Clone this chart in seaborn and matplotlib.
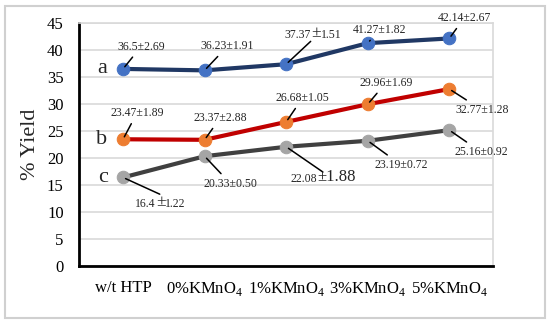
import pandas as pd
import matplotlib.pyplot as plt
import seaborn as sns
from matplotlib.patches import Rectangle

# values
categories = ["w/t HTP", "0%KMnO$_\\mathregular{4}$", "1%KMnO$_\\mathregular{4}$",
              "3%KMnO$_\\mathregular{4}$", "5%KMnO$_\\mathregular{4}$"]
yield_a = [36.5, 36.23, 37.37, 41.27, 42.14]
yield_b = [23.47, 23.37, 26.68, 29.96, 32.77]
yield_c = [16.4, 20.33, 22.08, 23.19, 25.16]
mean_a = ["36.5", "36.23", "37.37", "41.27", "42.14"]
mean_b = ["23.47", "23.37", "26.68", "29.96", "32.77"]
mean_c = ["16.4", "20.33", "22.08", "23.19", "25.16"]
sd_a = ["2.69", "1.91", "1.51", "1.82", "2.67"]
sd_b = ["1.89", "2.88", "1.05", "1.69", "1.28"]
sd_c = ["1.22", "0.50", "1.88", "0.72", "0.92"]

sns.set_style("white")
plt.rcParams['font.family'] = ['Liberation Serif', 'DejaVu Serif']
plt.rcParams['mathtext.fontset'] = 'custom'
plt.rcParams['mathtext.rm'] = 'Liberation Serif'

df = pd.DataFrame({
    "x": list(range(5)) * 3,
    "y": yield_a + yield_b + yield_c,
    "series": ["a"] * 5 + ["b"] * 5 + ["c"] * 5,
})

styles = {
    "a": dict(color="#203864", mfc="#4472C4"),
    "b": dict(color="#C00000", mfc="#ED7D31"),
    "c": dict(color="#404040", mfc="#A5A5A5"),
}

fig = plt.figure(figsize=(5.5, 3.24), dpi=100)
ax = fig.add_axes([0.1436, 0.179, 0.752, 0.75])

for s, st in styles.items():
    sns.lineplot(data=df[df.series == s], x="x", y="y", ax=ax, color=st["color"],
                 lw=3, marker="o", markersize=9, markerfacecolor=st["mfc"],
                 markeredgecolor=st["mfc"], zorder=3)

ax.set_xlim(-0.54, 4.53)
ax.set_ylim(0, 45)
ax.set_yticks(range(0, 46, 5))
ax.set_xticks(range(5))
ax.set_xticklabels(categories)
ax.tick_params(axis="both", labelsize=12, colors="black")
ax.tick_params(axis="x", direction="out", length=6, width=2, pad=4)
ax.tick_params(axis="y", direction="out", length=4, width=1.2, pad=7)
ax.yaxis.grid(True, color="#D9D9D9", lw=1.2)
ax.set_axisbelow(True)
for side in ["left", "bottom"]:
    ax.spines[side].set_color("black")
    ax.spines[side].set_linewidth(2)
for side in ["right", "top"]:
    ax.spines[side].set_color("#D9D9D9")
    ax.spines[side].set_linewidth(1.2)
ax.set_xlabel("")
ax.set_ylabel("% Yield", fontsize=16, labelpad=5)

line_kw = dict(arrowstyle="-", color="black", lw=1.1, shrinkA=1, shrinkB=2)
fs = 8.5

# label text positions (data coords)
pos_a = [(0.22, 40.6), (1.28, 40.7), None, (3.14, 43.7), (4.18, 45.9)]
pos_b = [(0.17, 28.3), (1.19, 27.4), (2.2, 31.1), (3.22, 33.9), (4.4, 28.9)]
pos_c = [None, (1.32, 15.2), None, (3.41, 18.7), (4.39, 21.1)]

for vals, means, sds, pos in [(yield_a, mean_a, sd_a, pos_a), (yield_b, mean_b, sd_b, pos_b),
                              (yield_c, mean_c, sd_c, pos_c)]:
    for i, (v, m, sd, p) in enumerate(zip(vals, means, sds, pos)):
        if p is None:
            continue
        ax.annotate(f"{m}±{sd}", xy=(i, v), xytext=p, arrowprops=line_kw,
                    fontsize=fs, ha="center", va="center")


def mixed(ax, i, v, tx, ty, line_end, parts):
    # text pieces of different size, placed one after another
    ax.annotate("", xy=(i, v), xytext=line_end, arrowprops=dict(line_kw, shrinkA=0))
    t = ax.text(tx, ty, parts[0][0], fontsize=parts[0][1], ha="left", va="baseline")
    for s, size in parts[1:]:
        t = ax.annotate(s, xy=(1, 0), xycoords=t, xytext=(0, 0),
                        textcoords="offset points", fontsize=size, ha="left", va="bottom")


mixed(ax, 2, yield_a[2], 1.98, 42.3, (2.3, 41.6), [("37.37", fs), ("±", 12.5), (sd_a[2], fs)])
mixed(ax, 0, yield_c[0], 0.15, 10.9, (0.45, 13.3), [("16.4", fs), ("±", 12.5), (sd_c[0], fs)])
mixed(ax, 2, yield_c[2], 2.05, 15.6, (2.45, 17.4), [("22.08", fs), ("±" + sd_c[2], 12)])

for s, v in zip(["a", "b", "c"], [yield_a[0], yield_b[0], yield_c[0]]):
    ax.text(-0.19, v, s, fontsize=16, ha="right", va="center")

fig.patches.append(Rectangle((5 / 550, 6 / 324), 540 / 550, 312 / 324, transform=fig.transFigure,
                             fill=False, edgecolor="#D0D0D0", lw=1.5))

plt.savefig("out.png", dpi=100)
